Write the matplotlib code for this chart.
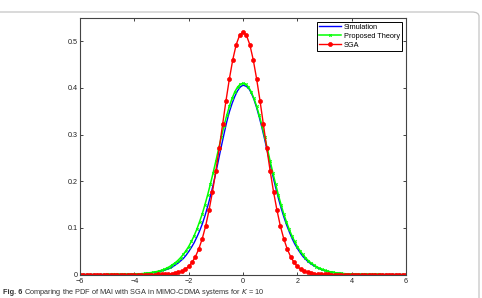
import numpy as np
import matplotlib
matplotlib.use("Agg")
import matplotlib.pyplot as plt
from matplotlib.patches import FancyBboxPatch

# ---------------- data ----------------
# SGA curve, step 0.125 from -6 to 6 (one side, x = 0 .. 6, 49 values)
sga_x = np.arange(-6, 6.0001, 0.125)
sga_half = [0.520, 0.513, 0.493, 0.461, 0.420, 0.373, 0.322, 0.271, 0.222,
            0.177, 0.138, 0.104, 0.0768, 0.0551, 0.0385, 0.0262, 0.0174,
            0.0112, 0.0070, 0.0043, 0.0026, 0.0015, 0.0008, 0.0005, 0.0002,
            0.0001, 0.0, 0.0, 0.0, 0.0, 0.0, 0.0, 0.0, 0.0, 0.0, 0.0, 0.0,
            0.0, 0.0, 0.0, 0.0, 0.0, 0.0, 0.0, 0.0, 0.0, 0.0, 0.0, 0.0]
sga_y = np.array(sga_half[:0:-1] + sga_half)

# Proposed theory, step 0.1 from -6 to 6 (one side, x = 0 .. 6, 61 values)
theory_x = np.round(np.arange(-6, 6.0001, 0.1), 2)
theory_half = [0.410, 0.408, 0.402, 0.392, 0.378, 0.361, 0.341, 0.319, 0.294,
               0.269, 0.243, 0.218, 0.194, 0.171, 0.150, 0.130, 0.113, 0.097,
               0.083, 0.071, 0.060, 0.051, 0.043, 0.036, 0.030, 0.025, 0.021,
               0.017, 0.014, 0.011, 0.009, 0.0075, 0.006, 0.005, 0.004, 0.003,
               0.0025, 0.002, 0.0015, 0.0012, 0.001, 0.0008, 0.0006, 0.0005,
               0.0004, 0.0003, 0.0002, 0.0002, 0.0001, 0.0001, 0.0001, 0.0,
               0.0, 0.0, 0.0, 0.0, 0.0, 0.0, 0.0, 0.0, 0.0]
theory_y = np.array(theory_half[:0:-1] + theory_half)

# Simulation, step 0.1 from -6 to 6 (121 values)
sim_x = theory_x
sim_y = np.array([
    0.0, 0.0, 0.0, 0.0, 0.0, 0.0, 0.0, 0.0, 0.0, 0.0,
    0.0, 0.0001, 0.0001, 0.0001, 0.0002, 0.0002, 0.0003, 0.0004, 0.0005, 0.0006,
    0.0008, 0.001, 0.0012, 0.0015, 0.002, 0.0025, 0.003, 0.004, 0.005, 0.006,
    0.0075, 0.009, 0.011, 0.013, 0.016, 0.020, 0.024, 0.029, 0.034, 0.041,
    0.049, 0.058, 0.068, 0.080, 0.093, 0.108, 0.126, 0.146, 0.168, 0.192,
    0.218, 0.246, 0.274, 0.301, 0.327, 0.349, 0.367, 0.382, 0.394, 0.402,
    0.406,
    0.404, 0.400, 0.390, 0.376, 0.358, 0.337, 0.314, 0.289, 0.263,
    0.237, 0.211, 0.187, 0.164, 0.143, 0.124, 0.107, 0.092, 0.078, 0.066,
    0.056, 0.047, 0.039, 0.033, 0.027, 0.023, 0.019, 0.016, 0.013, 0.010,
    0.0085, 0.007, 0.0055, 0.0045, 0.0035, 0.003, 0.0024, 0.0018, 0.0014, 0.0011,
    0.0009, 0.0007, 0.0005, 0.0004, 0.0003, 0.0002, 0.0002, 0.0001, 0.0001, 0.0001,
    0.0, 0.0, 0.0, 0.0, 0.0, 0.0, 0.0, 0.0, 0.0, 0.0, 0.0])

x_ticks = [-6, -4, -2, 0, 2, 4, 6]
x_labels = ["\u22126", "\u22124", "\u22122", "0", "2", "4", "6"]
y_ticks = [0, 0.1, 0.2, 0.3, 0.4, 0.5]
y_labels = ["0", "0.1", "0.2", "0.3", "0.4", "0.5"]
series_labels = ["Simulation", "Proposed Theory", "SGA"]

# ---------------- figure ----------------
plt.rcParams['font.family'] = ['Liberation Sans', 'DejaVu Sans']
W, H = 482, 298
fig = plt.figure(figsize=(W / 100, H / 100), dpi=100)

# panel border (gray rounded frame, top and right visible)
border = FancyBboxPatch((-20 / W, -20 / H), (479 + 20) / W, (H - 12 + 20) / H,
                        boxstyle="round,pad=0,rounding_size=0.015",
                        transform=fig.transFigure, fill=False,
                        edgecolor='#c4c4c4', linewidth=0.9, clip_on=False)
fig.patches.append(border)

ax = fig.add_axes([80 / W, (H - 274.5) / H, (406 - 80) / W, (274.5 - 18) / H])

ax.plot(sim_x, sim_y, color=(0, 0, 1), linewidth=1.0, label=series_labels[0])
ax.plot(theory_x, theory_y, color=(0, 1, 0), linewidth=1.1, marker='x',
        markersize=1.8, markeredgewidth=0.7, label=series_labels[1])
ax.plot(sga_x, sga_y, color=(1, 0, 0), linewidth=1.0, marker='o',
        markersize=2.9, markeredgewidth=0.5, label=series_labels[2])

ax.set_xlim(-6, 6)
ax.set_ylim(0, 0.55)
ax.set_xticks(x_ticks)
ax.set_xticklabels(x_labels)
ax.set_yticks(y_ticks)
ax.set_yticklabels(y_labels)
ax.tick_params(axis='both', direction='in', length=2.5, width=0.6, labelsize=5.2,
               top=True, right=True, colors='#222222', labelcolor='#222222')
ax.tick_params(axis='x', pad=2.5)
ax.tick_params(axis='y', pad=1.5)
for s in ax.spines.values():
    s.set_linewidth(0.8)
    s.set_color('#444444')

leg = ax.legend(loc='upper right', fontsize=5.3, handlelength=3.0,
                handletextpad=0.35, borderaxespad=0.55, borderpad=0.25,
                labelspacing=0.25, fancybox=False, framealpha=1)
leg.get_frame().set_edgecolor('black')
leg.get_frame().set_linewidth(0.7)

cap_y = (H - 294.5) / H
t1 = fig.text(3 / W, cap_y, "Fig. 6", fontsize=5.3, fontweight='bold',
              color='#333333', ha='left', va='baseline')
fig.text(24 / W, cap_y,
         "Comparing the PDF of MAI with SGA in MIMO-CDMA systems for $K$ = 10",
         fontsize=5.3, color='#333333', ha='left', va='baseline')

fig.savefig("out.png", dpi=100)
